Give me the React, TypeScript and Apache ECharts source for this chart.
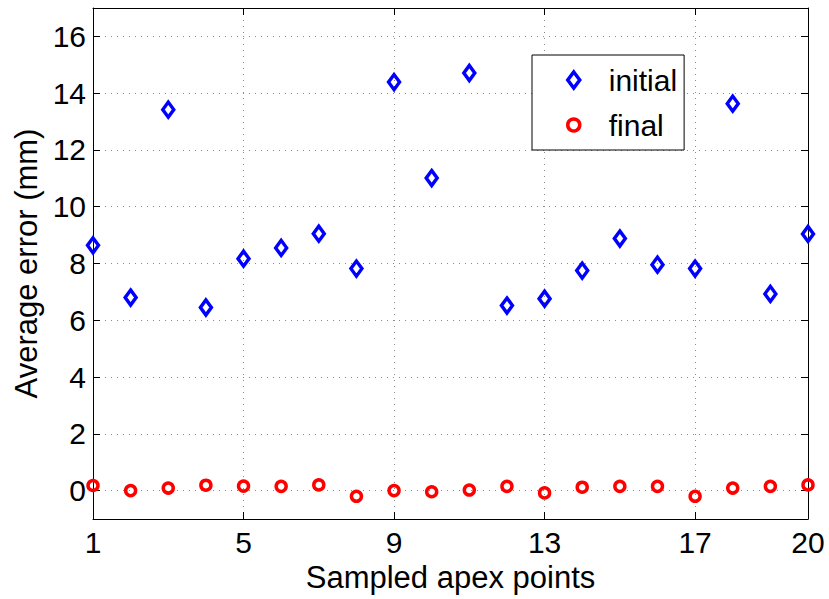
import React, { useEffect, useRef } from "react";
import * as echarts from "echarts";

const pointIndex = [1, 2, 3, 4, 5, 6, 7, 8, 9, 10, 11, 12, 13, 14, 15, 16, 17, 18, 19, 20];
const initialErr = [8.64, 6.8, 13.42, 6.45, 8.17, 8.55, 9.05, 7.82, 14.39, 11.01, 14.71, 6.52, 6.76, 7.75, 8.88, 7.96, 7.82, 13.63, 6.93, 9.04];
const finalErr = [0.18, 0.0, 0.09, 0.19, 0.16, 0.15, 0.2, -0.2, 0.0, -0.04, 0.02, 0.15, -0.08, 0.12, 0.15, 0.15, -0.2, 0.09, 0.15, 0.2];
const xTicks = [1, 5, 9, 13, 17, 20];
const yTicks = [0, 2, 4, 6, 8, 10, 12, 14, 16];
const seriesNames = ["initial", "final"];

const FONT = "'Liberation Sans', Arial, Helvetica, sans-serif";
const BLUE = "#0000ff";
const RED = "#ff0000";
const FS = 30;
const MW = 3.5;

export default function App() {
  const ref = useRef<HTMLDivElement>(null);
  useEffect(() => {
    if (!ref.current) return;
    const chart = echarts.init(ref.current, null, { renderer: "svg" });
    const gridLine = { show: true, lineStyle: { color: "#8a8a8a", type: [1, 5], width: 1 } };
    const axisLine = { show: true, onZero: false, lineStyle: { color: "#000", width: 1 } };
    const tick = (vals: number[]) => ({ show: true, inside: true, length: 7, customValues: vals, lineStyle: { color: "#000" } });
    chart.setOption({
      animation: false,
      backgroundColor: "#fff",
      textStyle: { fontFamily: FONT },
      grid: { left: 93, right: 21, top: 8, bottom: 80, containLabel: false },
      legend: {
        orient: "vertical",
        left: 532,
        top: 55,
        padding: [9, 7, 9, 34],
        itemGap: 13,
        itemWidth: 12,
        itemHeight: 16,
        borderColor: "#000",
        borderWidth: 1,
        backgroundColor: "#fff",
        selectedMode: false,
        textStyle: { fontFamily: FONT, fontSize: FS, color: "#000", lineHeight: 32, padding: [0, 0, 0, 24] },
        data: [
          { name: seriesNames[0], icon: "path://M6,0L12,8L6,16L0,8Z", itemStyle: { color: "rgba(0,0,0,0)", borderColor: BLUE, borderWidth: MW, opacity: 1 } },
          { name: seriesNames[1], icon: "circle", itemStyle: { color: "rgba(0,0,0,0)", borderColor: RED, borderWidth: MW, opacity: 1 } },
        ],
      },
      xAxis: [
        {
          type: "value",
          min: 1,
          max: 20,
          position: "bottom",
          name: "Sampled apex points",
          nameLocation: "middle",
          nameGap: 42,
          nameTextStyle: { fontFamily: FONT, fontSize: 31, color: "#000" },
          axisLine,
          axisTick: tick(xTicks),
          axisLabel: { show: true, customValues: xTicks, fontSize: FS, color: "#000", margin: 8, fontFamily: FONT },
          splitLine: gridLine,
        },
        {
          type: "value",
          min: 1,
          max: 20,
          position: "top",
          axisLine,
          axisTick: tick(xTicks),
          axisLabel: { show: false },
          splitLine: { show: false },
        },
      ],
      yAxis: [
        {
          type: "value",
          min: -1,
          max: 17,
          position: "left",
          name: "Average error (mm)",
          nameLocation: "middle",
          nameGap: 49,
          nameTextStyle: { fontFamily: FONT, fontSize: 31, color: "#000" },
          axisLine,
          axisTick: tick(yTicks),
          axisLabel: { show: true, customValues: yTicks, fontSize: FS, color: "#000", margin: 7, fontFamily: FONT },
          splitLine: gridLine,
        },
        {
          type: "value",
          min: -1,
          max: 17,
          position: "right",
          axisLine,
          axisTick: tick(yTicks),
          axisLabel: { show: false },
          splitLine: { show: false },
        },
      ],
      series: [
        {
          name: seriesNames[0],
          type: "scatter",
          xAxisIndex: 0,
          yAxisIndex: 0,
          symbol: "diamond",
          symbolSize: [11, 15],
          itemStyle: { color: "rgba(0,0,0,0)", borderColor: BLUE, borderWidth: MW, opacity: 1 },
          data: pointIndex.map((x, i) => [x, initialErr[i]]),
          z: 3,
        },
        {
          name: seriesNames[1],
          type: "scatter",
          xAxisIndex: 0,
          yAxisIndex: 0,
          symbol: "circle",
          symbolSize: 10,
          itemStyle: { color: "rgba(0,0,0,0)", borderColor: RED, borderWidth: MW, opacity: 1 },
          data: pointIndex.map((x, i) => [x, finalErr[i]]),
          z: 3,
        },
      ],
    });
    return () => chart.dispose();
  }, []);
  return <div ref={ref} style={{ position: "fixed", left: 0, top: 0, width: 829, height: 599 }} />;
}
